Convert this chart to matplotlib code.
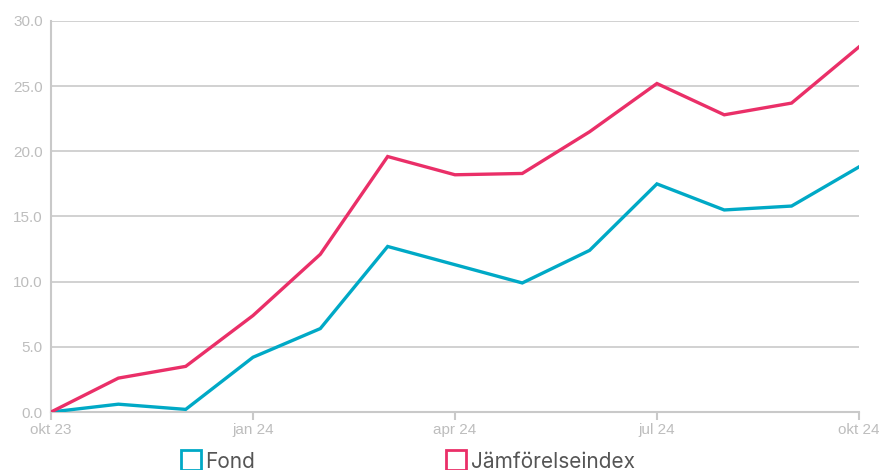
import matplotlib
matplotlib.use("Agg")
import matplotlib.pyplot as plt
from matplotlib.lines import Line2D

months = ["okt 23", "nov 23", "dec 23", "jan 24", "feb 24", "mar 24", "apr 24",
          "maj 24", "jun 24", "jul 24", "aug 24", "sep 24", "okt 24"]
fond = [0.0, 0.6, 0.2, 4.2, 6.4, 12.7, 11.3, 9.9, 12.4, 17.5, 15.5, 15.8, 18.8]
index = [0.0, 2.6, 3.5, 7.4, 12.1, 19.6, 18.2, 18.3, 21.5, 25.2, 22.8, 23.7, 28.0]
yticks = [0, 5, 10, 15, 20, 25, 30]

teal = "#00a9c6"
pink = "#ea2f68"
grid = "#c9c9c9"
label_gray = "#bdbdbd"

plt.rcParams['font.family'] = ['Liberation Sans', 'DejaVu Sans']

fig = plt.figure(figsize=(8.8, 4.7), dpi=100)
ax = fig.add_axes([0.058, 0.1234, 0.918, 0.832])

x = list(range(len(months)))
ax.plot(x, fond, color=teal, lw=2.4, solid_joinstyle='miter', zorder=3)
ax.plot(x, index, color=pink, lw=2.4, solid_joinstyle='miter', zorder=3)

ax.set_xlim(0, len(months) - 1)
ax.set_ylim(0, 30)
ax.set_yticks(yticks)
ax.set_yticklabels([f"{v:.1f}" for v in yticks])
ax.set_xticks(x[::3])
ax.set_xticklabels(months[::3])

ax.grid(axis='y', color=grid, lw=1.2, zorder=0)
for s in ['top', 'right']:
    ax.spines[s].set_visible(False)
for s in ['left', 'bottom']:
    ax.spines[s].set_color(grid)
    ax.spines[s].set_linewidth(1.5)
ax.tick_params(axis='y', length=0, pad=6, labelsize=11, labelcolor=label_gray)
ax.tick_params(axis='x', length=6, width=1.5, color=grid, pad=2, labelsize=11,
               labelcolor=label_gray)

handles = [Line2D([], [], marker='s', markersize=14, markerfacecolor='none',
                  markeredgecolor=c, markeredgewidth=2, linestyle='none')
           for c in (teal, pink)]
fig.legend(handles, ["Fond", "Jämförelseindex"], loc='center', ncol=2,
           bbox_to_anchor=(0.463, 0.018), frameon=False, handletextpad=0.2,
           columnspacing=9.15, handlelength=1.0,
           prop={'family': 'Inter', 'size': 15}, labelcolor='#555555')

fig.savefig("out.png", dpi=100)
